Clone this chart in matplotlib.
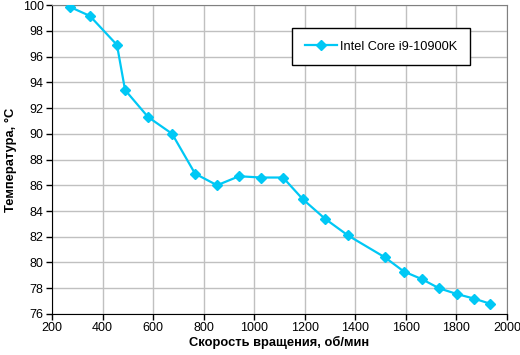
import matplotlib
matplotlib.use("Agg")
import matplotlib.pyplot as plt

rpm = [271, 350, 457, 489, 580, 675, 766, 853, 940, 1027, 1114, 1193, 1280,
       1371, 1517, 1592, 1664, 1731, 1802, 1869, 1933]
temp = [99.85, 99.15, 96.9, 93.4, 91.3, 90.0, 86.9, 86.0, 86.7, 86.6, 86.6,
        84.9, 83.4, 82.1, 80.4, 79.3, 78.7, 78.0, 77.55, 77.2, 76.8]
series_name = "Intel Core i9-10900K"
xlabel = "Скорость вращения, об/мин"
ylabel = "Температура, °С"
xticks = list(range(200, 2001, 200))
yticks = list(range(76, 101, 2))

plt.rcParams['font.family'] = ['Liberation Sans', 'DejaVu Sans']
fig = plt.figure(figsize=(5.2, 3.55), dpi=100)
ax = fig.add_axes([0.1, 0.1155, 0.875, 0.8704])
ax.plot(rpm, temp, color='#00C8F5', lw=1.6, marker='D', ms=5.5,
        mec='#00C8F5', mfc='#00C8F5', label=series_name, zorder=3)
ax.set_xlim(200, 2000)
ax.set_ylim(76, 100)
ax.set_xticks(xticks)
ax.set_yticks(yticks)
ax.grid(True, color='#C0C0C0', lw=1.0)
ax.set_axisbelow(True)
for s in ['top', 'right']:
    ax.spines[s].set_color('#808080')
for s in ['left', 'bottom']:
    ax.spines[s].set_color('black')
ax.tick_params(direction='out', length=4, width=1, labelsize=9, pad=2)
ax.set_xlabel(xlabel, fontsize=9.3, fontweight='bold', labelpad=1)
ax.set_ylabel(ylabel, fontsize=9.3, fontweight='bold', labelpad=4)
leg = ax.legend(loc='upper left', bbox_to_anchor=(0.527, 0.926), fontsize=9.2,
                frameon=True, fancybox=False, edgecolor='black',
                borderpad=1.0, handlelength=2.5, handletextpad=0.3,
                borderaxespad=0, framealpha=1)
leg.get_frame().set_linewidth(1.0)
fig.savefig('out.png', dpi=100)
